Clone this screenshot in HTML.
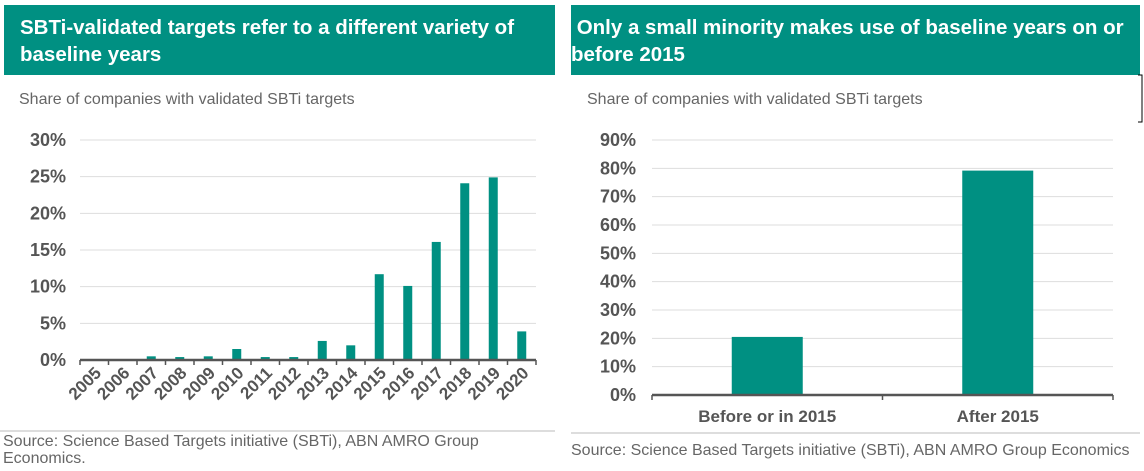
<!DOCTYPE html>
<html><head><meta charset="utf-8"><style>
body{margin:0;width:1144px;height:471px;background:#fff;font-family:"Liberation Sans",Arial,sans-serif;overflow:hidden;position:relative}
.hdr{position:absolute;background:#009082;color:#fff;font-weight:bold;font-size:20.5px;line-height:27px}
.sub{position:absolute;color:#666;font-size:16px}
.src{position:absolute;color:#666;font-size:16px;line-height:17px}
svg{position:absolute;left:0;top:0}
</style></head><body>
<div class="hdr" style="left:4px;top:5px;width:535px;height:56px;padding:9px 0 5px 16px">SBTi-validated targets refer to a different variety of baseline years</div>
<div class="hdr" style="left:571px;top:5px;width:569px;height:56px;padding:9px 0 5px 0">&nbsp;Only a small minority makes use of baseline years on or before 2015</div>
<div class="sub" style="left:19px;top:91px">Share of companies with validated SBTi targets</div>
<div class="sub" style="left:587px;top:91px">Share of companies with validated SBTi targets</div>
<div class="src" style="left:3px;top:433px;width:500px">Source: Science Based Targets initiative (SBTi), ABN AMRO Group Economics.</div>
<div class="src" style="left:571px;top:442px">Source: Science Based Targets initiative (SBTi), ABN AMRO Group Economics</div>
<svg width="1144" height="471" id="svg">
<line x1="0" y1="431" x2="555" y2="431" stroke="#bbb"/>
<line x1="571" y1="433" x2="1140" y2="433" stroke="#bbb"/>
<path d="M1138 75 H1142 V122 H1138" fill="none" stroke="#000"/>
</svg>
<script>
const leftCats=["2005","2006","2007","2008","2009","2010","2011","2012","2013","2014","2015","2016","2017","2018","2019","2020"];
const leftVals=[0,0,0.5,0.4,0.5,1.5,0.4,0.4,2.6,2.0,11.7,10.1,16.1,24.1,24.9,3.9];
const leftTicks=[0,5,10,15,20,25,30];
const rightCats=["Before or in 2015","After 2015"];
const rightVals=[20.5,79.2];
const rightTicks=[0,10,20,30,40,50,60,70,80,90];
const NS="http://www.w3.org/2000/svg",svg=document.getElementById('svg');
const C="#009082";
function mk(t,a,txt){const e=document.createElementNS(NS,t);for(const k in a)e.setAttribute(k,a[k]);if(txt!=null)e.textContent=txt;svg.appendChild(e);return e;}
// left
const lx0=80,lx1=536,ly0=360,ly1=140,lmax=30;
const ly=v=>ly0-(v/lmax)*(ly0-ly1);
const lbw=(lx1-lx0)/leftCats.length;
leftTicks.forEach(t=>{
 if(t>0){const g=mk('line',{x1:lx0,x2:lx1,y1:ly(t),y2:ly(t),stroke:'#ddd'});
 }
 const l=mk('text',{x:lx0-14,y:ly(t)+6,'text-anchor':'end','font-size':18,'font-weight':'bold',fill:'#555'},t+'%');
 
});
leftCats.forEach((c,i)=>{
 const cx=lx0+lbw*(i+0.5),v=leftVals[i];
 const b=mk('rect',{x:cx-4.5,y:ly(v),width:9,height:ly0-ly(v),fill:C});
 
 const tk=mk('line',{x1:lx0+lbw*i,x2:lx0+lbw*i,y1:ly0,y2:ly0+5,stroke:'#555','stroke-width':1.5});
 
 const l=mk('text',{x:cx+8,y:ly0+14,'text-anchor':'end','font-size':17,'font-weight':'bold',fill:'#555',transform:`rotate(-45 ${cx+8} ${ly0+14})`},c);
 
});
const lt=mk('line',{x1:lx1,x2:lx1,y1:ly0,y2:ly0+5,stroke:'#555','stroke-width':1.5});

const la=mk('line',{x1:lx0,x2:lx1,y1:ly0,y2:ly0,stroke:'#555','stroke-width':2.5});

// right
const rx0=652,rx1=1113,ry0=395,ry1=140,rmax=90;
const ry=v=>ry0-(v/rmax)*(ry0-ry1);
const rbw=(rx1-rx0)/rightCats.length;
const rx=i=>rx0+rbw*(i+0.5);
rightTicks.forEach(t=>{
 if(t>0){const g=mk('line',{x1:rx0,x2:rx1,y1:ry(t),y2:ry(t),stroke:'#ddd'});
 }
 const l=mk('text',{x:rx0-16,y:ry(t)+6,'text-anchor':'end','font-size':18,'font-weight':'bold',fill:'#555'},t+'%');
 
});
rightCats.forEach((c,i)=>{
 const cx=rx(i),v=rightVals[i];
 const b=mk('rect',{x:cx-35.5,y:ry(v),width:71,height:ry0-ry(v),fill:C});
 
 const l=mk('text',{x:cx,y:ry0+27,'text-anchor':'middle','font-size':17,'font-weight':'bold',fill:'#555'},c);
 
});
[rx0,(rx0+rx1)/2,rx1].forEach(x=>{const tk=mk('line',{x1:x,x2:x,y1:ry0,y2:ry0+5,stroke:'#555','stroke-width':1.5});
 });
const ra=mk('line',{x1:rx0,x2:rx1,y1:ry0,y2:ry0,stroke:'#555','stroke-width':2.5});

</script>
</body></html>
